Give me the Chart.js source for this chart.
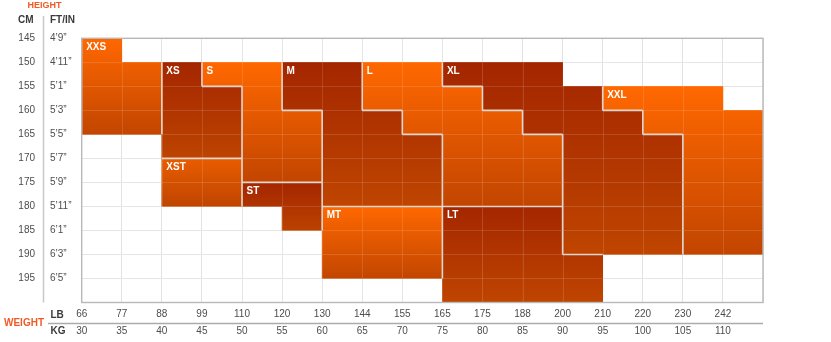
<!DOCTYPE html>
<html>
<head>
<meta charset="utf-8">
<script src="https://cdn.jsdelivr.net/npm/chart.js@4"></script>
<style>
  html, body { margin: 0; padding: 0; background: #fff; }
  #wrap { width: 831px; height: 342px; }
</style>
</head>
<body>
<div id="wrap"><canvas id="size-chart"></canvas></div>
<script>
// Axis labels
const heightCm = [145, 150, 155, 160, 165, 170, 175, 180, 185, 190, 195];
const heightFtIn = ['4’9”', '4’11”', '5’1”', '5’3”', '5’5”', '5’7”', '5’9”', '5’11”', '6’1”', '6’3”', '6’5”'];
const weightKg = [30, 35, 40, 45, 50, 55, 60, 65, 70, 75, 80, 85, 90, 95, 100, 105, 110];
const weightLb = [66, 77, 88, 99, 110, 120, 130, 144, 155, 165, 175, 188, 200, 210, 220, 230, 242];

// Each size: one entry per weight column -> [kg column, height from (cm), height to (cm)]
const sizeNames = ['XXS', 'XS', 'XST', 'S', 'ST', 'M', 'MT', 'L', 'LT', 'XL', 'XXL'];
const xxsCells = [[30, 145, 165], [35, 150, 165]];
const xsCells = [[40, 150, 170], [45, 155, 170]];
const xstCells = [[40, 170, 180], [45, 170, 180]];
const sCells = [[45, 150, 155], [50, 150, 175], [55, 160, 175]];
const stCells = [[50, 175, 180], [55, 175, 185]];
const mCells = [[55, 150, 160], [60, 150, 180], [65, 160, 180], [70, 165, 180]];
const mtCells = [[60, 180, 195], [65, 180, 195], [70, 180, 195]];
const lCells = [[65, 150, 160], [70, 150, 165], [75, 155, 180], [80, 160, 180], [85, 165, 180]];
const ltCells = [[75, 180, 200], [80, 180, 200], [85, 180, 200], [90, 190, 200]];
const xlCells = [[75, 150, 155], [80, 150, 160], [85, 150, 165], [90, 155, 190], [95, 160, 190], [100, 165, 190]];
const xxlCells = [[95, 155, 160], [100, 155, 165], [105, 155, 190], [110, 160, 190]];

const sizeCells = [xxsCells, xsCells, xstCells, sCells, stCells, mCells, mtCells, lCells, ltCells, xlCells, xxlCells];

// Gradient colours per size (top -> bottom)
const sizeTopColor = ['#ff6800', '#a42600', '#e85c00', '#ff6800', '#a42600', '#a42600', '#ff6800', '#ff6800', '#a42600', '#a42600', '#ff6800'];
const sizeBottomColor = ['#c24500', '#bd4400', '#c04500', '#c24500', '#bb4200', '#bf4500', '#c24600', '#c24500', '#bf4500', '#bf4500', '#c24500'];

const KG_STEP = 5, CM_STEP = 5;

// which size owns a cell (kg column start, cm row start)
function ownerAt(kg, cm) {
    for (let i = 0; i < sizeCells.length; i++) {
        for (const [k, from, to] of sizeCells[i]) {
            if (k === kg && cm >= from && cm < to) return i;
        }
    }
    return -1;
}

function regionFill(i) {
    return (ctx) => {
        const chart = ctx.chart;
        const ys = chart.scales.y;
        if (!chart.chartArea || !ys) return sizeBottomColor[i];
        const cells = sizeCells[i];
        const top = ys.getPixelForValue(Math.min(...cells.map(c => c[1])));
        const bottom = ys.getPixelForValue(Math.max(...cells.map(c => c[2])));
        const g = chart.ctx.createLinearGradient(0, top, 0, bottom);
        g.addColorStop(0, sizeTopColor[i]);
        g.addColorStop(1, sizeBottomColor[i]);
        return g;
    };
}

const datasets = sizeCells.map((cells, i) => ({
    label: sizeNames[i],
    data: cells.map(([kg, from, to]) => ({ x: kg + KG_STEP / 2, y: [from, to] })),
    backgroundColor: regionFill(i),
    borderWidth: 0,
    borderSkipped: false,
    grouped: false,
    barPercentage: 1,
    categoryPercentage: 1
}));

const fixedTicks = (values) => (scale) => {
    scale.ticks = values.map(v => ({ value: v }));
};
const kgTicks = weightKg.concat([weightKg[weightKg.length - 1] + KG_STEP]);
const cmTicks = heightCm.concat([heightCm[heightCm.length - 1] + CM_STEP]);

// overlay: faint grid inside coloured cells, region outlines, size names, headers
const sizeChartDecor = {
    id: 'sizeChartDecor',
    afterDatasetsDraw(chart) {
        const { ctx, chartArea: a } = chart;
        const xs = chart.scales.x, ys = chart.scales.y;
        ctx.save();

        ctx.strokeStyle = 'rgba(255,255,255,0.13)';
        ctx.lineWidth = 1;
        kgTicks.forEach(v => {
            const x = Math.round(xs.getPixelForValue(v)) + 0.5;
            ctx.beginPath(); ctx.moveTo(x, a.top); ctx.lineTo(x, a.bottom); ctx.stroke();
        });
        cmTicks.forEach(v => {
            const y = Math.round(ys.getPixelForValue(v)) + 0.5;
            ctx.beginPath(); ctx.moveTo(a.left, y); ctx.lineTo(a.right, y); ctx.stroke();
        });

        // outlines between different sizes
        ctx.strokeStyle = 'rgba(225,222,220,0.95)';
        ctx.lineWidth = 1.6;
        weightKg.forEach(kg => {
            heightCm.forEach(cm => {
                const o = ownerAt(kg, cm);
                if (o < 0) return;
                const x1 = xs.getPixelForValue(kg + KG_STEP);
                const y0 = ys.getPixelForValue(cm), y1 = ys.getPixelForValue(cm + CM_STEP);
                const x0 = xs.getPixelForValue(kg);
                const right = ownerAt(kg + KG_STEP, cm);
                if (right >= 0 && right !== o) {
                    ctx.beginPath(); ctx.moveTo(x1, y0); ctx.lineTo(x1, y1); ctx.stroke();
                }
                const below = ownerAt(kg, cm + CM_STEP);
                if (below >= 0 && below !== o) {
                    ctx.beginPath(); ctx.moveTo(x0, y1); ctx.lineTo(x1, y1); ctx.stroke();
                }
            });
        });

        // size names in the top-left cell of each region
        ctx.fillStyle = '#ffffff';
        ctx.font = 'bold 10px "Liberation Sans", Arial, sans-serif';
        ctx.textBaseline = 'middle';
        ctx.textAlign = 'left';
        sizeCells.forEach((cells, i) => {
            const first = cells.slice().sort((p, q) => p[1] - q[1] || p[0] - q[0])[0];
            ctx.fillText(sizeNames[i], xs.getPixelForValue(first[0]) + 4.5, ys.getPixelForValue(first[1]) + 8.5);
        });
        ctx.restore();
    },
    afterDraw(chart) {
        const { ctx, chartArea: a } = chart;
        ctx.save();
        // plot frame
        ctx.strokeStyle = '#b8b8b8';
        ctx.lineWidth = 1.4;
        ctx.strokeRect(a.left, a.top, a.right - a.left, a.bottom - a.top);

        // separator between CM and FT/IN columns
        ctx.strokeStyle = '#c8c8c8';
        ctx.lineWidth = 1.5;
        ctx.beginPath(); ctx.moveTo(43.5, 16); ctx.lineTo(43.5, a.bottom); ctx.stroke();

        // separator between LB and KG rows
        const x2 = chart.scales.x2;
        ctx.strokeStyle = '#ababab';
        ctx.lineWidth = 1.3;
        ctx.beginPath(); ctx.moveTo(48, x2.top); ctx.lineTo(a.right, x2.top); ctx.stroke();

        ctx.textBaseline = 'middle';
        ctx.fillStyle = '#f15a24';
        ctx.font = 'bold 9px "Liberation Sans", Arial, sans-serif';
        ctx.textAlign = 'center';
        ctx.fillText('HEIGHT', 44.5, 6);
        ctx.font = 'bold 10px "Liberation Sans", Arial, sans-serif';
        ctx.textAlign = 'left';
        ctx.fillText('WEIGHT', 4, 323.5);

        ctx.fillStyle = '#3a3a3a';
        ctx.fillText('FT/IN', 50, 20.5);
        ctx.fillText('LB', 50.5, 315.5);
        ctx.fillText('KG', 50.5, 331.5);
        ctx.textAlign = 'right';
        ctx.fillText('CM', 33.5, 20.5);
        ctx.restore();
    }
};

Chart.defaults.font.family = '"Liberation Sans", Arial, sans-serif';
Chart.defaults.font.size = 10;
Chart.defaults.color = '#4d4d4d';

const ctx = document.getElementById('size-chart').getContext('2d');

new Chart(ctx, {
    type: 'bar',
    data: { datasets },
    options: {
        responsive: true,
        maintainAspectRatio: false,
        animation: false,
        events: [],
        layout: { padding: { top: 38.3, right: 68, bottom: 0, left: 0 } },
        plugins: {
            legend: { display: false },
            tooltip: { enabled: false }
        },
        scales: {
            x: {
                type: 'linear',
                position: 'bottom',
                offset: false,
                weight: 0,
                min: 30,
                max: 115,
                afterBuildTicks: fixedTicks(kgTicks),
                afterFit: (s) => { s.height = 21; },
                grid: { color: '#e2e2e2', offset: false, drawTicks: false, tickLength: 0 },
                border: { display: false },
                ticks: {
                    padding: 6,
                    maxRotation: 0,
                    autoSkip: false,
                    callback: (v) => {
                        const i = weightKg.indexOf(v);
                        return i >= 0 ? String(weightLb[i]) : '';
                    }
                }
            },
            x2: {
                type: 'linear',
                position: 'bottom',
                offset: false,
                weight: 1,
                min: 30,
                max: 115,
                afterBuildTicks: fixedTicks(kgTicks),
                afterFit: (s) => { s.height = 18.5; },
                grid: { display: false, offset: false, drawTicks: false, tickLength: 0 },
                border: { display: false },
                ticks: {
                    padding: 2,
                    maxRotation: 0,
                    autoSkip: false,
                    callback: (v) => (weightKg.includes(v) ? String(v) : '')
                }
            },
            y: {
                type: 'linear',
                position: 'left',
                weight: 1,
                reverse: true,
                min: 145,
                max: 200,
                afterBuildTicks: fixedTicks(cmTicks),
                afterFit: (s) => { s.width = 50; },
                grid: { color: '#e2e2e2', drawTicks: false, tickLength: 0 },
                border: { display: false },
                ticks: {
                    padding: 15,
                    crossAlign: 'near',
                    autoSkip: false,
                    callback: (v) => (heightCm.includes(v) ? String(v) : '')
                }
            },
            y2: {
                type: 'linear',
                position: 'left',
                weight: 0,
                reverse: true,
                min: 145,
                max: 200,
                afterBuildTicks: fixedTicks(cmTicks),
                afterFit: (s) => { s.width = 31.7; },
                grid: { display: false, drawTicks: false, tickLength: 0 },
                border: { display: false },
                ticks: {
                    padding: 0,
                    crossAlign: 'far',
                    autoSkip: false,
                    callback: (v) => {
                        const i = heightCm.indexOf(v);
                        return i >= 0 ? heightFtIn[i] : '';
                    }
                }
            }
        }
    },
    plugins: [sizeChartDecor]
});
</script>
</body>
</html>
